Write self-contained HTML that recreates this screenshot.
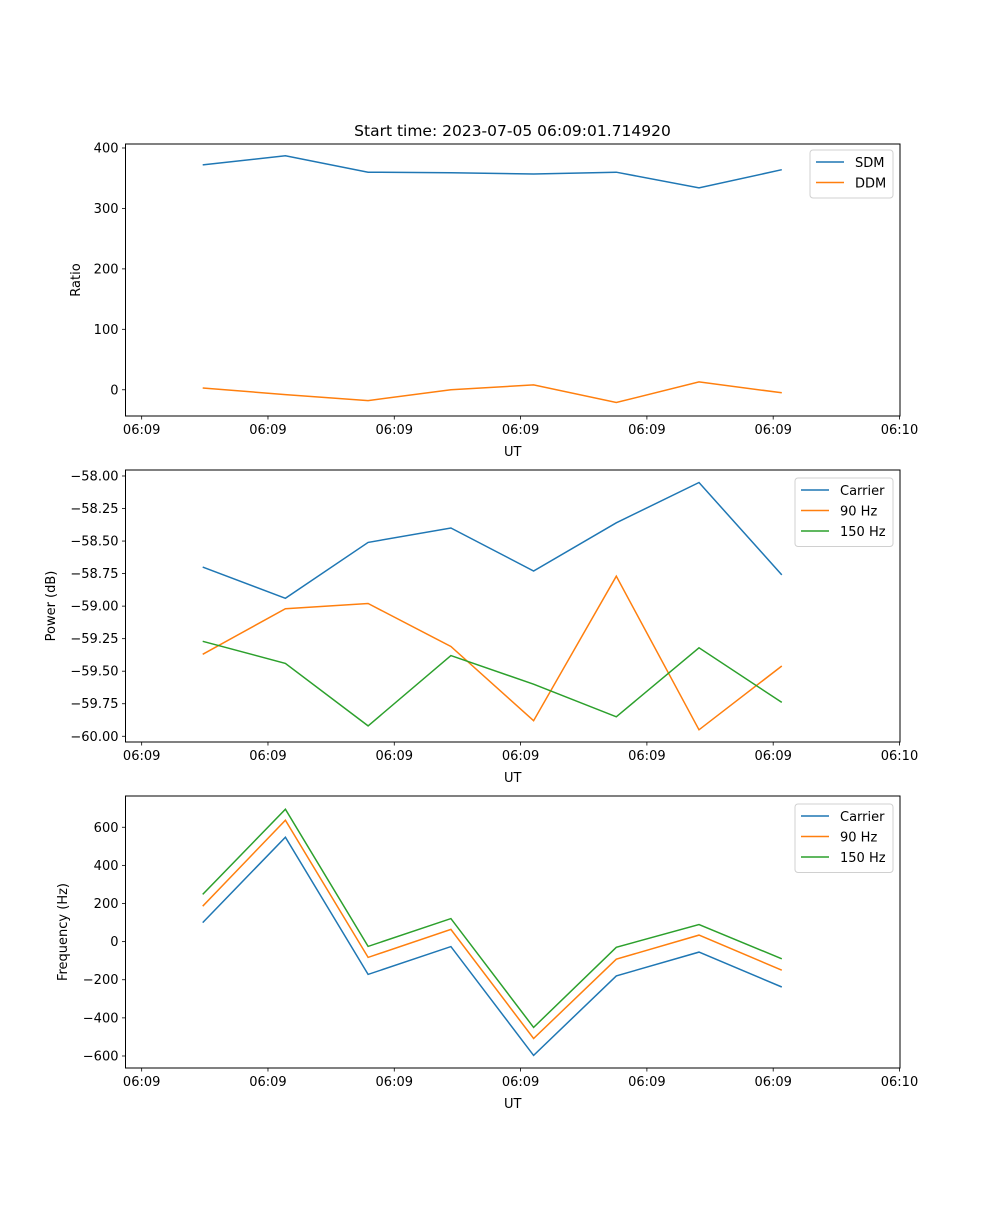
<!DOCTYPE html>
<html><head><meta charset="utf-8"><style>
html,body{margin:0;padding:0;background:#fff;}
svg text{font-family:"DejaVu Sans","Liberation Sans",sans-serif;font-size:13px;fill:#000;}
</style></head><body>
<svg id="fig" width="1000" height="1200" xmlns="http://www.w3.org/2000/svg">
<rect width="1000" height="1200" fill="#fff"/>
<text x="512.5" y="136" text-anchor="middle" style="font-size:15.5px">Start time: 2023-07-05 06:09:01.714920</text>
</svg>
<script>
const times = [4.83, 11.38, 17.93, 24.48, 31.03, 37.58, 44.13, 50.68];
const xTicks = [0, 10, 20, 30, 40, 50, 60];
const xTickLabels = ["06:09","06:09","06:09","06:09","06:09","06:09","06:10"];
const sdm = [372, 387, 360, 359, 357, 360, 334, 364];
const ddm = [3, -8, -18, 0, 8, -21, 13, -5];
const powCarrier = [-58.70, -58.94, -58.51, -58.40, -58.73, -58.36, -58.05, -58.76];
const pow90 = [-59.37, -59.02, -58.98, -59.31, -59.88, -58.77, -59.95, -59.46];
const pow150 = [-59.27, -59.44, -59.92, -59.38, -59.60, -59.85, -59.32, -59.74];
const freqCarrier = [100, 548, -172, -26, -597, -180, -55, -238];
const freq90 = [186, 637, -83, 64, -508, -92, 34, -150];
const freq150 = [248, 695, -25, 121, -450, -30, 90, -90];
const ratioTicks = [0, 100, 200, 300, 400];
const powTicks = [-60, -59.75, -59.5, -59.25, -59, -58.75, -58.5, -58.25, -58];
const freqTicks = [-600, -400, -200, 0, 200, 400, 600];

const NS = "http://www.w3.org/2000/svg";
const svg = document.getElementById('fig');
const AX_L = 125.5, AX_R = 900;
const X0 = -1.28, X1 = 60.04;
function xs(t){ return AX_L + (t - X0) / (X1 - X0) * (AX_R - AX_L); }
function mk(tag, attrs){ const e = document.createElementNS(NS, tag); for (const k in attrs) e.setAttribute(k, attrs[k]); svg.appendChild(e); return e; }

function panel(top, bottom, ymin, ymax, ticks, fmt, ylabel, ylabelX, series, legend, name){
  const ys = v => bottom - (v - ymin) / (ymax - ymin) * (bottom - top);
  series.forEach(s => {
    const pts = s.data.map((v, i) => xs(times[i]).toFixed(1) + ',' + ys(v).toFixed(1)).join(' ');
    const pl = mk('polyline', {points: pts, fill: 'none', stroke: s.color, 'stroke-width': 1.5});
    
    
  });
  const fr = mk('rect', {x: AX_L, y: top, width: AX_R - AX_L, height: bottom - top, fill: 'none', stroke: '#000', 'stroke-width': 1});
  
  
  ticks.forEach(v => {
    const y = ys(v);
    mk('line', {x1: AX_L - 3.5, x2: AX_L, y1: y, y2: y, stroke: '#000', 'stroke-width': 0.8});
    const t = mk('text', {x: AX_L - 7, y: y + 4.5, 'text-anchor': 'end'});
    t.textContent = fmt(v);
    
    
  });
  xTicks.forEach((v, i) => {
    const x = xs(v);
    mk('line', {x1: x, x2: x, y1: bottom, y2: bottom + 3.5, stroke: '#000', 'stroke-width': 0.8});
    const t = mk('text', {x: x, y: bottom + 18, 'text-anchor': 'middle'});
    t.textContent = xTickLabels[i];
    
    
  });
  const xl = mk('text', {x: (AX_L + AX_R) / 2, y: bottom + 40, 'text-anchor': 'middle'});
  xl.textContent = 'UT';
  
  
  const cy = (top + bottom) / 2;
  const yl = mk('text', {x: ylabelX, y: cy, 'text-anchor': 'middle', transform: 'rotate(-90 ' + ylabelX + ' ' + cy + ')'});
  yl.textContent = ylabel;
  
  
  const lg = mk('rect', {x: legend.x, y: legend.y, width: legend.w, height: 7 + series.length * 20.5, rx: 3, fill: '#fff', stroke: '#ccc', 'stroke-width': 1, opacity: 0.9});
  
  
  series.forEach((s, i) => {
    const ly = legend.y + 12 + i * 20.5;
    const ln = mk('line', {x1: legend.x + 6, x2: legend.x + 34, y1: ly, y2: ly, stroke: s.color, 'stroke-width': 1.5});
    
    
    const lt = mk('text', {x: legend.x + 45, y: ly + 5});
    lt.textContent = s.label;
    
    
  });
}
const B = '#1f77b4', O = '#ff7f0e', G = '#2ca02c';
panel(144, 416, -43.4, 406.6, ratioTicks, v => v < 0 ? '\u2212' + (-v) : String(v), 'Ratio', 80,
  [{key:'sdm', label:'SDM', color:B, data:sdm}, {key:'ddm', label:'DDM', color:O, data:ddm}],
  {x: 810, y: 150, w: 83}, 'ratio');
panel(470, 742, -60.044, -57.954, powTicks, v => '\u2212' + (-v).toFixed(2), 'Power (dB)', 55,
  [{key:'carrier', label:'Carrier', color:B, data:powCarrier}, {key:'90hz', label:'90 Hz', color:O, data:pow90}, {key:'150hz', label:'150 Hz', color:G, data:pow150}],
  {x: 795, y: 478, w: 98}, 'power');
panel(796, 1068, -663, 764, freqTicks, v => v < 0 ? '\u2212' + (-v) : String(v), 'Frequency (Hz)', 67,
  [{key:'carrier', label:'Carrier', color:B, data:freqCarrier}, {key:'90hz', label:'90 Hz', color:O, data:freq90}, {key:'150hz', label:'150 Hz', color:G, data:freq150}],
  {x: 795, y: 804, w: 98}, 'frequency');
</script>
</body></html>
